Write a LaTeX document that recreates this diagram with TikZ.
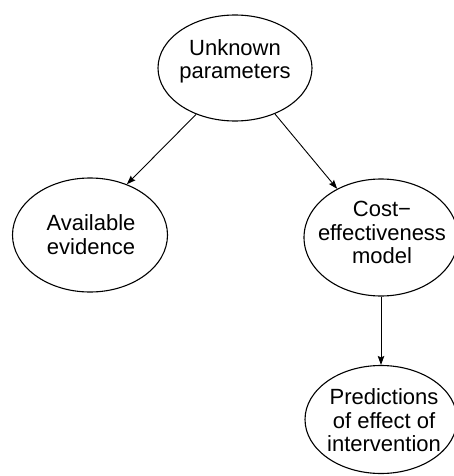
\documentclass[tikz,border=0pt]{standalone}
\usepackage{fontspec}
\setmainfont{Liberation Sans}
\usetikzlibrary{arrows.meta,shapes.geometric}
\begin{document}
\begin{tikzpicture}[x=1pt,y=-1pt,
  ell/.style={draw, ellipse, line width=1.1pt, inner sep=0pt, minimum width=154pt, minimum height=108pt},
  txt/.style={align=center, inner sep=0pt, font=\fontsize{22}{23.5}\selectfont},
  conn/.style={line width=0.9pt, -{Stealth[length=9pt,width=6.5pt,inset=1.5pt]}}]
\useasboundingbox (0,0) rectangle (454,476);
\node[ell, minimum width=154pt, minimum height=106pt] (top) at (235,68) {};
\node[txt] (topt) at (235,61.5) {Unknown\\parameters};
\node[ell, minimum width=155pt, minimum height=114pt] (avail) at (90,235) {};
\node[txt] (availt) at (91,234.5) {Available\\evidence};
\node[ell, minimum width=154pt, minimum height=117pt] (cost) at (381,237.5) {};
\node[txt] (costt) at (382,232.5) {Cost−\\effectiveness\\model};
\node[ell, minimum width=152pt, minimum height=108pt] (pred) at (381,419.5) {};
\node[txt] (predt) at (384,420.5) {Predictions\\of effect of\\intervention};
\draw[conn] (top.230) -- (avail.54);
\draw[conn] (top.311) -- (cost.132);
\draw[conn] (cost.south) -- (pred.north);
\end{tikzpicture}
\end{document}
